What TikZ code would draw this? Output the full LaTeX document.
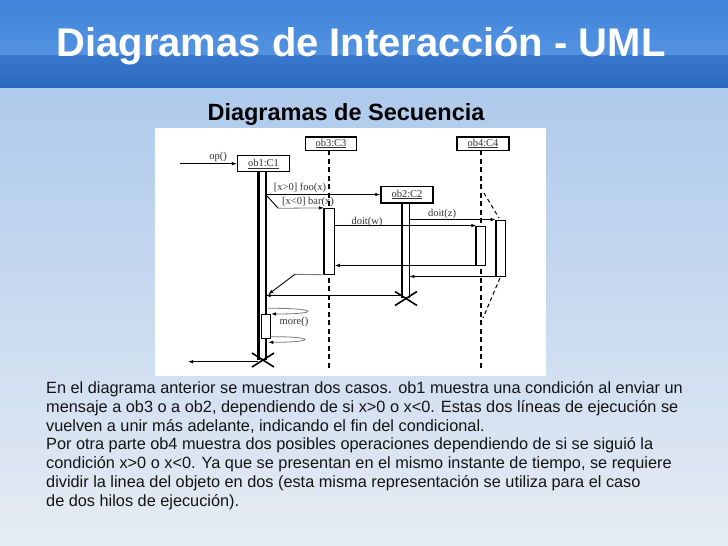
\documentclass[tikz,border=0pt]{standalone}
\usepackage{fontspec}
\setmainfont{Liberation Sans}
\newfontfamily\umlfont{Liberation Serif}
\usetikzlibrary{arrows.meta}

\definecolor{hdrtopA}{HTML}{3F84DB}
\definecolor{hdrtopB}{HTML}{5393E0}
\definecolor{hdrlowA}{HTML}{3877CC}
\definecolor{hdrlowB}{HTML}{2D6ABF}
\definecolor{pagetop}{HTML}{AECAEC}
\definecolor{pagebot}{HTML}{E6ECF3}
\definecolor{labelgray}{HTML}{333333}
\definecolor{thingray}{HTML}{7A7A7A}

\begin{document}
\begin{tikzpicture}[x=1pt,y=-1pt,
  objbox/.style={draw=black,line width=1.5pt,fill=white,inner sep=0pt,
    font=\umlfont\fontsize{10.5}{11}\selectfont,text=labelgray},
  actbox/.style={draw=black,line width=0.9pt,fill=white,inner sep=0pt},
  msg/.style={line width=0.9pt,-{Latex[length=5pt,width=3.6pt]}},
  graymsg/.style={line width=0.8pt,draw=thingray,-{Latex[length=5pt,width=3.6pt,color=black]}},
  msglabel/.style={font=\umlfont\fontsize{10.5}{11}\selectfont,text=labelgray,inner sep=0pt},
  lifeline/.style={line width=2.2pt,dash pattern=on 5pt off 3.5pt},
  branch/.style={line width=1pt,dash pattern=on 4pt off 3pt},
  destroy/.style={line width=1.6pt}
]
\useasboundingbox (0,0) rectangle (728,546);

% page background and header band
\shade[top color=pagetop,bottom color=pagebot] (0,87) rectangle (728,546);
\shade[top color=hdrtopA,bottom color=hdrtopB] (0,0) rectangle (728,55);
\shade[top color=hdrlowA,bottom color=hdrlowB] (0,55) rectangle (728,87);

\node[text=white,font=\bfseries\fontsize{40}{42}\selectfont] (title) at (361,46)
  {Diagramas de Interacción - UML};
\node[text=black,font=\bfseries\fontsize{23.5}{25}\selectfont] (subtitle) at (346,114)
  {Diagramas de Secuencia};

% white canvas of the sequence diagram
\fill[white] (155,128) rectangle (546,376);

% lifelines of ob3 and ob4
\coordinate (l3top) at (329,150);
\coordinate (l3bot) at (329,370);
\coordinate (l4top) at (481,150);
\coordinate (l4bot) at (481,370);
\draw[lifeline] (l3top) -- (l3bot);
\draw[lifeline] (l4top) -- (l4bot);

% ob4 splits into two threads and joins again
\coordinate (splitA) at (484,193);
\coordinate (splitB) at (499,218);
\coordinate (joinA) at (500,278);
\coordinate (joinB) at (483,318);
\draw[branch] (splitA) -- (splitB);
\draw[branch] (joinA) -- (joinB);

% ob1 execution (two bars)
\coordinate (o1la) at (258.3,171.7);
\coordinate (o1lb) at (258.3,360);
\coordinate (o1ra) at (265.7,171.7);
\coordinate (o1rb) at (265.7,360);
\draw[line width=2.6pt] (o1la) -- (o1lb);
\draw[line width=1.8pt] (o1ra) -- (o1rb);

% ob2 execution (two bars)
\coordinate (o2la) at (401.7,203);
\coordinate (o2lb) at (401.7,298);
\coordinate (o2ra) at (409.3,203);
\coordinate (o2rb) at (409.3,298);
\draw[line width=2.4pt] (o2la) -- (o2lb);
\draw[line width=1.6pt] (o2ra) -- (o2rb);

% activations
\node[actbox,minimum width=10pt,minimum height=66pt] (act3) at (329.3,241.3) {};
\draw[line width=2pt] (act3.north west) -- (act3.south west);
\node[actbox,minimum width=9pt,minimum height=39pt] (act4a) at (481.2,245.5) {};
\draw[line width=2pt] (act4a.north west) -- (act4a.south west);
\node[actbox,minimum width=9pt,minimum height=56pt] (act4b) at (500.5,248) {};
\draw[line width=2pt] (act4b.north west) -- (act4b.south west);
\node[actbox,line width=0.8pt,minimum width=9pt,minimum height=24pt] (more) at (266.2,326.3) {};

% object boxes
\node[objbox,minimum width=51.6pt,minimum height=16pt] (ob1) at (263.5,163.7) {\underline{ob1:C1}};
\node[objbox,minimum width=51pt,minimum height=13.5pt] (ob3) at (331,143.5) {\underline{ob3:C3}};
\node[objbox,minimum width=52pt,minimum height=13.5pt] (ob4) at (483,143.5) {\underline{ob4:C4}};
\node[objbox,minimum width=52pt,minimum height=16.5pt] (ob2) at (407,194.5) {\underline{ob2:C2}};

% destruction marks
\coordinate (x1) at (263,360);
\draw[destroy] ([shift={(-11,-7)}]x1) -- ([shift={(11,7)}]x1);
\draw[destroy] ([shift={(-11,7)}]x1) -- ([shift={(11,-7)}]x1);
\coordinate (x2) at (406,298.5);
\draw[destroy] ([shift={(-11,-7)}]x2) -- ([shift={(11,7)}]x2);
\draw[destroy] ([shift={(-11,7)}]x2) -- ([shift={(11,-7)}]x2);

% messages
\coordinate (opsrc) at (180,163.7);
\draw[msg] (opsrc) -- (ob1.west);
\node[msglabel] (lop) at (218,157) {op()};

\coordinate (fork) at (265.7,194.5);
\draw[msg] (fork) -- (ob2.west);
\node[msglabel] (lfoo) at (300,188) {[x>0] foo(x)};

\coordinate (barbend) at (278.3,208.3);
\draw[line width=0.9pt] (fork) -- (barbend);
\draw[graymsg] (barbend) -- (act3.north west);
\node[msglabel] (lbar) at (308,202) {[x<0] bar(x)};

\draw[msg] (act3.east |- act4a.north west) -- (act4a.north west);
\node[msglabel] (lw) at (367,221.5) {doit(w)};
\draw[msg] (act4a.south west) -- (act3.east |- act4a.south west);

\draw[msg] (o2ra |- act4b.north west) -- (act4b.north west);
\node[msglabel] (lz) at (442,213.5) {doit(z)};
\draw[msg] (act4b.south west) -- (o2ra |- act4b.south west);

% replies to ob1
\coordinate (ret3bend) at (295,274.3);
\coordinate (ret3end) at (268.3,294.3);
\draw[line width=0.9pt,draw=thingray] (act3.south west) -- (ret3bend);
\draw[msg] (ret3bend) -- (ret3end);
\coordinate (ret2src) at (401.7,295.5);
\draw[msg] (ret2src) -- (o1ra |- ret2src);

\coordinate (outend) at (188,361.7);
\draw[msg] (o1lb |- outend) -- (outend);

% self call more()
\coordinate (loop1src) at (268,308.3);
\draw[graymsg] (loop1src) .. controls (320,308) and (320,314.3) .. (more.north east);
\coordinate (loop2src) at (270.7,336.7);
\coordinate (loop2end) at (268.3,342.3);
\draw[graymsg] (loop2src) .. controls (316,336.5) and (316,342.3) .. (loop2end);
\node[msglabel] (lmore) at (294,322) {more()};

% explanatory text
\node[anchor=north west,align=left,inner sep=0pt,text=black!92,
  font=\fontsize{16.3}{18.75}\selectfont] (body) at (46,381.5) {%
En el diagrama anterior se muestran dos casos. ob1 muestra una condición al enviar un\\
mensaje a ob3 o a ob2, dependiendo de si x>0 o x<0. Estas dos líneas de ejecución se\\
vuelven a unir más adelante, indicando el fin del condicional.\\
Por otra parte ob4 muestra dos posibles operaciones dependiendo de si se siguió la\\
condición x>0 o x<0. Ya que se presentan en el mismo instante de tiempo, se requiere\\
dividir la linea del objeto en dos (esta misma representación se utiliza para el caso\\
de dos hilos de ejecución).};
\end{tikzpicture}
\end{document}
